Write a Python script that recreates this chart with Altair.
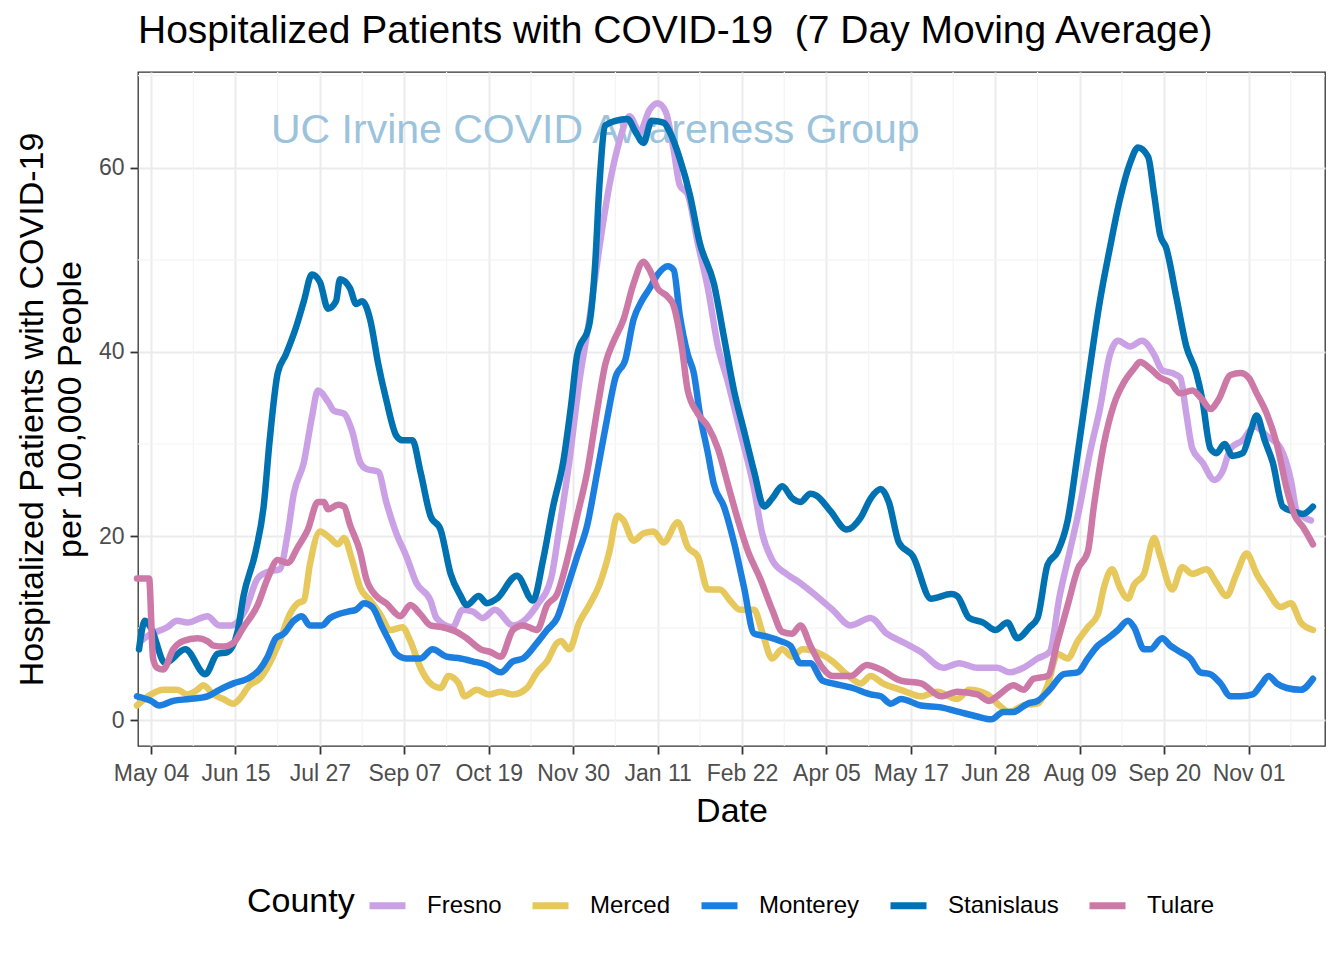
import altair as alt
import pandas as pd

BASE = pd.Timestamp("2020-05-04")

counties = ["Fresno", "Merced", "Monterey", "Stanislaus", "Tulare"]
colors = ["#CBA1E6", "#E6C85C", "#1C7FE0", "#0072B2", "#CC79A7"]

# day offsets from 2020-05-04 and 7-day-average values (per 100,000)
fresno_days = [-5, -2, 8, 13, 18, 28, 34, 40, 47, 53, 58, 64, 68, 71, 76, 80, 83, 88, 91, 96,
               100, 104, 107, 113, 117, 122, 127, 132, 139, 142, 150, 155, 160, 165, 171, 180, 187, 192, 199, 203,
               208, 213, 218, 223, 228, 233, 238, 243, 248, 252, 256, 260, 263, 267, 272, 277, 282, 287, 293, 300,
               304, 309, 316, 323, 331, 339, 348, 358, 366, 373, 383, 394, 402, 411, 421, 427, 434, 441, 447, 452,
               457, 462, 467, 472, 477, 481, 487, 493, 499, 503, 508, 512, 515, 518, 523, 529, 533, 537, 543, 549,
               555, 562, 567, 570, 577]
fresno_vals = [8.6, 9.1, 10.1, 10.8, 10.6, 11.3, 10.3, 10.3, 12.0, 15.4, 16.1, 16.4, 20.3, 24.6, 28.0, 32.9, 35.8, 34.6, 33.6, 33.3,
               31.4, 28.0, 27.3, 27.0, 23.7, 20.3, 17.8, 14.9, 13.0, 11.1, 10.1, 12.0, 11.8, 11.1, 12.0, 10.3, 11.1, 12.5, 15.4, 20.7,
               28.0, 36.7, 43.5, 51.3, 58.1, 62.9, 65.6, 63.9, 66.3, 67.0, 66.1, 61.9, 58.1, 57.1, 51.8, 46.9, 40.6, 36.7, 31.4, 25.1,
               20.3, 17.4, 15.9, 14.9, 13.5, 12.0, 10.3, 11.1, 9.4, 8.6, 7.4, 5.7, 6.2, 5.7, 5.7, 5.2, 5.7, 6.7, 7.4, 13.5,
               18.3, 23.2, 29.0, 33.8, 39.7, 41.2, 40.6, 41.2, 39.7, 38.0, 37.7, 37.2, 33.3, 29.5, 28.0, 26.1, 27.0, 29.5, 30.4, 31.9,
               30.9, 29.5, 26.1, 22.7, 21.7]

merced_days = [-7, 0, 6, 13, 18, 23, 26, 31, 36, 41, 44, 49, 54, 59, 64, 69, 73, 76, 79, 84,
               89, 93, 96, 100, 104, 109, 114, 119, 125, 129, 134, 139, 144, 148, 153, 156, 162, 168, 174, 180,
               187, 192, 197, 202, 204, 208, 213, 218, 223, 228, 232, 235, 240, 245, 250, 255, 262, 267, 272, 277,
               283, 288, 293, 300, 304, 309, 314, 319, 324, 333, 339, 346, 353, 358, 364, 373, 383, 391, 401, 407,
               416, 422, 427, 434, 441, 446, 451, 456, 461, 466, 471, 474, 478, 482, 486, 489, 494, 499, 502, 508,
               513, 518, 525, 530, 535, 540, 545, 550, 555, 562, 567, 572, 578]
merced_vals = [1.6, 2.8, 3.3, 3.3, 2.8, 3.3, 3.8, 2.8, 2.3, 1.8, 2.3, 3.8, 4.5, 6.2, 8.6, 11.5, 12.7, 13.0, 16.9, 20.5,
               19.8, 19.1, 19.8, 17.4, 14.4, 13.0, 11.5, 9.8, 10.1, 8.6, 5.7, 4.0, 3.5, 4.8, 4.0, 2.6, 3.3, 2.8, 3.1, 2.8,
               3.5, 5.2, 6.4, 8.4, 8.6, 7.7, 10.6, 12.5, 14.7, 18.3, 22.2, 21.7, 19.5, 20.3, 20.5, 19.3, 21.5, 18.8, 17.8, 14.2,
               14.2, 13.0, 12.0, 12.0, 9.6, 6.7, 7.7, 6.9, 7.7, 7.2, 6.4, 5.0, 4.0, 4.8, 4.0, 3.3, 2.6, 3.1, 2.3, 3.3,
               2.8, 1.6, 0.9, 1.6, 1.8, 3.8, 7.2, 6.7, 8.6, 10.1, 11.5, 14.4, 16.4, 14.4, 13.2, 14.7, 15.9, 19.8, 17.8, 14.2,
               16.6, 15.9, 16.4, 14.9, 13.5, 15.9, 18.1, 15.9, 14.2, 12.3, 12.7, 10.6, 9.8]

monterey_days = [-7, 0, 4, 11, 19, 28, 34, 41, 48, 54, 58, 62, 66, 71, 75, 79, 85, 89, 93, 98,
                 102, 106, 110, 115, 119, 122, 127, 134, 140, 147, 154, 160, 167, 174, 180, 185, 192, 197, 202, 207,
                 212, 217, 222, 227, 231, 236, 240, 244, 248, 252, 257, 260, 263, 267, 270, 273, 277, 280, 285, 290,
                 295, 300, 306, 313, 318, 323, 328, 334, 339, 349, 358, 363, 368, 373, 383, 393, 402, 411, 418, 424,
                 429, 436, 441, 447, 454, 461, 466, 471, 476, 481, 486, 489, 494, 497, 503, 507, 512, 517, 522, 527,
                 532, 537, 542, 548, 552, 556, 560, 565, 572, 578]
monterey_vals = [2.6, 2.1, 1.6, 2.1, 2.3, 2.6, 3.3, 4.0, 4.5, 5.5, 6.9, 8.9, 9.4, 10.8, 11.3, 10.3, 10.3, 11.1, 11.5, 11.8,
                 12.0, 12.7, 12.3, 10.1, 8.4, 7.2, 6.7, 6.7, 7.7, 6.9, 6.7, 6.4, 6.0, 5.2, 6.4, 6.7, 8.4, 9.8, 11.1, 14.4,
                 17.8, 21.2, 27.0, 32.9, 37.2, 39.2, 43.5, 45.5, 46.9, 48.4, 49.3, 48.9, 44.0, 39.7, 37.7, 33.3, 29.0, 25.6, 23.2, 19.3,
                 14.4, 9.4, 9.1, 8.6, 8.1, 6.2, 6.2, 4.3, 4.0, 3.5, 2.8, 2.6, 1.8, 2.3, 1.6, 1.4, 0.9, 0.4, 0.1, 0.9,
                 0.9, 1.8, 2.1, 3.3, 5.0, 5.2, 6.7, 8.1, 8.9, 9.8, 10.8, 10.1, 7.7, 7.7, 8.9, 8.1, 7.4, 6.7, 5.2, 5.0,
                 4.0, 2.6, 2.6, 2.8, 3.8, 4.8, 4.0, 3.5, 3.3, 4.5]

stanislaus_days = [-6, -3, 0, 7, 17, 27, 33, 38, 43, 46, 52, 56, 59, 63, 67, 72, 76, 80, 84, 88,
                   92, 94, 99, 102, 105, 109, 113, 117, 122, 125, 130, 134, 139, 144, 149, 154, 157, 163, 167, 172,
                   182, 190, 195, 200, 205, 209, 212, 218, 221, 223, 226, 231, 237, 241, 245, 249, 255, 258, 263, 268,
                   273, 280, 285, 290, 295, 300, 305, 309, 314, 319, 323, 328, 331, 338, 346, 353, 358, 363, 367, 372,
                   379, 388, 398, 401, 407, 414, 420, 426, 431, 437, 441, 446, 451, 456, 461, 466, 472, 477, 482, 487,
                   491, 496, 499, 502, 505, 510, 515, 520, 523, 527, 530, 534, 538, 543, 547, 550, 554, 558, 563, 568,
                   573, 578]
stanislaus_vals = [7.7, 10.8, 10.0, 6.2, 7.7, 5.0, 7.2, 7.4, 9.6, 13.5, 18.3, 23.2, 30.4, 37.7, 39.7, 42.6, 45.5, 48.4, 47.6, 44.7,
                   45.5, 47.9, 46.9, 45.2, 45.5, 43.5, 38.7, 34.8, 30.9, 30.4, 30.4, 27.0, 22.2, 20.7, 15.9, 13.5, 12.5, 13.5, 12.7, 13.2,
                   15.7, 13.0, 17.4, 23.2, 28.0, 34.3, 39.7, 43.0, 49.8, 58.0, 64.6, 65.1, 65.3, 63.9, 62.7, 65.1, 64.9, 63.9, 61.0, 57.1,
                   51.8, 47.4, 41.6, 35.8, 31.4, 27.0, 23.2, 24.1, 25.4, 24.1, 23.7, 24.6, 24.4, 22.7, 20.7, 22.0, 24.1, 25.1, 23.7, 19.3,
                   17.8, 13.2, 13.7, 13.5, 11.1, 10.6, 9.8, 10.6, 8.9, 10.1, 11.1, 16.9, 18.3, 21.7, 29.0, 36.7, 45.5, 51.3, 56.6, 60.5,
                   62.2, 61.2, 57.1, 52.7, 51.3, 46.0, 40.6, 37.7, 34.8, 29.5, 29.0, 30.0, 28.7, 29.0, 31.4, 33.1, 30.4, 28.0, 23.2, 22.7,
                   22.4, 23.2]

tulare_days = [-7, -1, 1, 3, 6, 11, 16, 23, 28, 31, 36, 41, 46, 53, 58, 63, 68, 73, 78, 83,
               86, 88, 93, 96, 99, 104, 107, 112, 117, 124, 129, 134, 139, 145, 152, 157, 164, 169, 174, 180,
               185, 192, 197, 202, 207, 212, 217, 222, 226, 230, 235, 240, 245, 248, 252, 257, 260, 264, 267, 272,
               277, 282, 287, 292, 297, 303, 309, 314, 319, 323, 328, 334, 339, 348, 356, 363, 373, 383, 393, 401,
               411, 417, 422, 429, 434, 439, 446, 451, 456, 461, 466, 469, 474, 479, 484, 489, 492, 497, 502, 507,
               512, 518, 523, 527, 531, 537, 542, 546, 550, 555, 560, 565, 569, 573, 578]
tulare_vals = [15.4, 15.4, 6.7, 5.7, 5.5, 7.7, 8.6, 8.9, 8.6, 8.1, 8.0, 8.4, 10.1, 12.5, 15.4, 17.4, 17.1, 18.8, 20.7, 23.7,
               23.7, 22.9, 23.4, 23.2, 21.2, 18.3, 15.4, 13.5, 12.7, 11.3, 12.5, 11.5, 10.3, 10.1, 9.6, 8.9, 7.7, 7.4, 6.9, 9.8,
               10.3, 9.8, 12.5, 13.7, 17.4, 22.2, 27.0, 33.8, 38.7, 41.1, 43.5, 47.4, 49.8, 48.9, 46.9, 46.0, 45.0, 40.6, 35.8, 33.3,
               31.9, 29.5, 25.6, 21.7, 18.3, 15.4, 12.0, 9.6, 9.4, 10.3, 8.1, 5.7, 4.8, 4.8, 6.0, 5.5, 4.3, 4.0, 2.6, 3.1,
               2.8, 2.1, 2.8, 3.8, 3.3, 4.5, 4.8, 8.6, 12.5, 16.4, 18.3, 23.2, 30.0, 34.3, 36.7, 38.2, 38.9, 38.2, 37.2, 36.7,
               35.5, 35.8, 34.8, 33.8, 34.8, 37.5, 37.7, 37.2, 35.5, 33.3, 30.0, 25.1, 22.2, 21.0, 19.1]

major_tick_days = [0, 42, 84, 126, 168, 210, 252, 294, 336, 378, 420, 462, 504, 546]
minor_tick_days = [21, 63, 105, 147, 189, 231, 273, 315, 357, 399, 441, 483, 525, 567]
y_major = [0, 20, 40, 60]
y_minor = [10, 30, 50, 70]

series = {
    "Fresno": (fresno_days, fresno_vals),
    "Merced": (merced_days, merced_vals),
    "Monterey": (monterey_days, monterey_vals),
    "Stanislaus": (stanislaus_days, stanislaus_vals),
    "Tulare": (tulare_days, tulare_vals),
}


def to_date_str(days):
    return [(BASE + pd.Timedelta(days=float(d))).strftime("%Y-%m-%d") for d in days]


def to_ms(days):
    return [int((BASE + pd.Timedelta(days=float(d))).timestamp() * 1000) for d in days]


frames = []
for name, (d, v) in series.items():
    frames.append(pd.DataFrame({"date": to_date_str(d), "value": v, "County": name}))
df = pd.concat(frames, ignore_index=True)

x_scale = alt.Scale(type="utc", domain=to_ms([-6.5, 584]), nice=False)
y_scale = alt.Scale(domain=[-2.8, 70.4], nice=False, zero=False)

x_axis = alt.Axis(values=to_ms(major_tick_days), format="%b %d", labelPadding=8,
                  titlePadding=9, labelFlush=False, labelOverlap=False)
y_axis = alt.Axis(values=y_major, labelPadding=6, titlePadding=11, titleLineHeight=38)
X_TITLE = "Date"
Y_TITLE = ["Hospitalized Patients with COVID-19", "per 100,000 People"]


def xenc():
    return alt.X("date:T", scale=x_scale, title=X_TITLE, axis=x_axis)


def yenc():
    return alt.Y("value:Q", scale=y_scale, title=Y_TITLE, axis=y_axis)


minor_x = alt.Chart(pd.DataFrame({"date": to_date_str(minor_tick_days)})).mark_rule(
    color="#F4F4F4", strokeWidth=1.2
).encode(x=xenc())

minor_y = alt.Chart(pd.DataFrame({"value": y_minor})).mark_rule(
    color="#F4F4F4", strokeWidth=1.2
).encode(y=yenc())

watermark = alt.Chart(pd.DataFrame({"date": ["2020-12-11"], "value": [64.0],
                                    "label": ["UC Irvine COVID Awareness Group"]})).mark_text(
    color="#9CC3DC", fontSize=41, font="Liberation Sans", align="center", baseline="middle"
).encode(x=xenc(), y=yenc(), text="label:N")

lines = alt.Chart(df).mark_line(strokeWidth=6.5, strokeCap="round", strokeJoin="round",
                                interpolate="monotone").encode(
    x=xenc(),
    y=yenc(),
    color=alt.Color("County:N", scale=alt.Scale(domain=counties, range=colors),
                    legend=alt.Legend(orient="none", legendX=109, legendY=812, direction="horizontal",
                                      columns=5, titleOrient="left", titleFontSize=34,
                                      titleFontWeight="normal", titleColor="black", titlePadding=11,
                                      labelFontSize=24, labelColor="black", symbolType="stroke",
                                      symbolSize=1296, symbolStrokeWidth=7, labelOffset=18,
                                      columnPadding=16)),
)

chart = alt.layer(minor_x, minor_y, watermark, lines).properties(
    width=1187, height=674,
    padding={"left": 138, "top": 72, "right": 19, "bottom": 214},
    autosize=alt.AutoSizeParams(type="none"),
    title=alt.TitleParams(text="Hospitalized Patients with COVID-19\u00a0 (7 Day Moving Average)",
                          anchor="start", frame="group", fontSize=39, fontWeight="normal",
                          color="black", font="Liberation Sans", offset=20),
).configure(font="Liberation Sans", background="white").configure_view(
    stroke="#333333", strokeWidth=1.3
).configure_axis(
    gridColor="#EBEBEB", gridWidth=2, domain=False,
    labelFont="Liberation Sans", labelFontSize=23, labelColor="#4D4D4D",
    tickColor="#333333", tickWidth=1.8, tickSize=8,
    titleFont="Liberation Sans", titleFontSize=34, titleFontWeight="normal", titleColor="black",
).configure_legend(labelFont="Liberation Sans", titleFont="Liberation Sans")

chart.save("out.html", embed_options={"renderer": "svg", "actions": False})
